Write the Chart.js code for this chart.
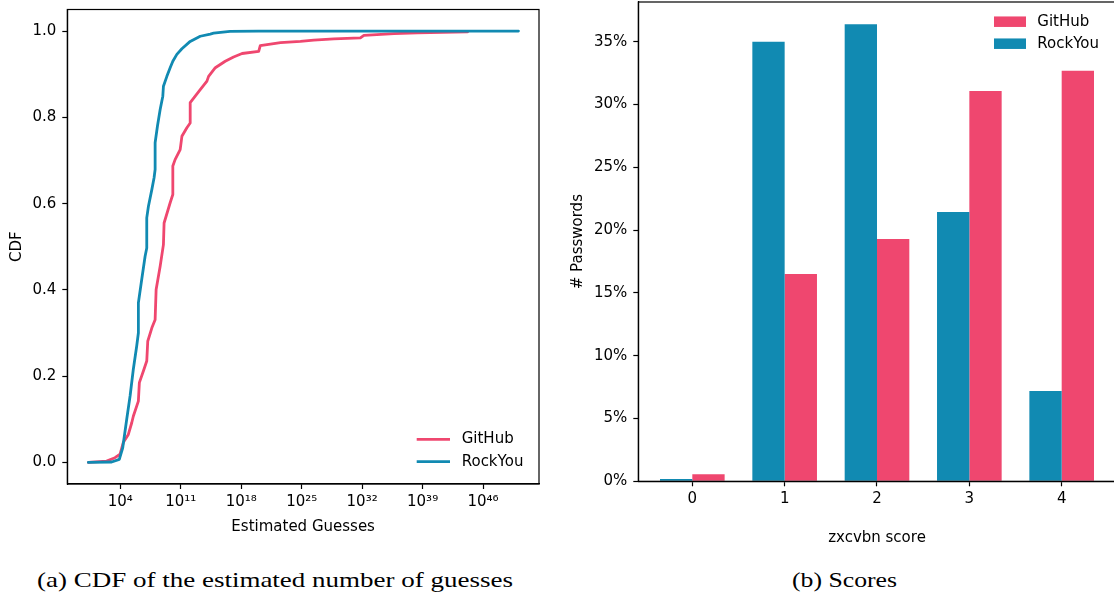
<!DOCTYPE html>
<html><head><meta charset="utf-8">
<script src="https://cdn.jsdelivr.net/npm/chart.js@4.4.1/dist/chart.umd.min.js"></script>
<style>
html,body{margin:0;padding:0;background:#fff;overflow:hidden;width:1114px;height:599px;position:relative;}
#wa{position:absolute;left:0;top:0;width:557px;height:550px;}
#wb{position:absolute;left:557px;top:0;width:570px;height:550px;}
.cap{position:absolute;top:570px;font-family:"Liberation Serif",serif;font-size:21px;line-height:21px;white-space:nowrap;color:#000;transform-origin:left center;}
</style></head>
<body>
<div id="wa"><canvas id="ca" width="557" height="550"></canvas></div>
<div id="wb"><canvas id="cb" width="570" height="550"></canvas></div>
<div class="cap" id="capA">(a) CDF of the estimated number of guesses</div>
<div class="cap" id="capB">(b) Scores</div>
<script>
// ---- Left panel: CDF of estimated guesses ----
const githubGuesses = [2e0,2.6e2,2.4e3,9.3e3,2.2e4,8.5e4,2.1e5,3.2e5,1.23e6,1.6e6,4.7e6,1.15e7,1.5e7,4.5e7,1.07e8,1.4e8,4.1e8,9.8e8,1.17e9,5.9e9,1.2e10,1.2e10,2.2e10,8.5e10,1.35e11,5.1e11,1.23e12,1.23e12,4.7e12,1.8e13,1.07e14,1.66e14,1e15,1.4e16,1.3e17,1.26e18,1.05e20,1.6e20,3.5e22,7.2e24,2.5e26,5.4e28,6.3e31,1.6e32,5e35,2.5e38,1.6e44];
const githubCdf     = [0,0.003,0.011,0.019,0.046,0.065,0.092,0.107,0.142,0.185,0.212,0.235,0.281,0.312,0.331,0.401,0.455,0.505,0.555,0.602,0.621,0.687,0.702,0.725,0.756,0.776,0.787,0.834,0.849,0.864,0.884,0.895,0.915,0.930,0.940,0.948,0.953,0.966,0.973,0.976,0.979,0.982,0.984,0.990,0.994,0.996,0.998];
const rockyouGuesses = [2e0,1e3,7.6e3,1.9e4,5.5e4,1.35e5,3.2e5,7.9e5,1.23e6,1.23e6,3.0e6,7.4e6,1.15e7,1.15e7,1.8e7,4.5e7,8.1e7,1.07e8,1.07e8,2e8,4.1e8,8.3e8,9.8e8,2.45e9,5.9e9,1.2e10,3.5e10,1.35e11,1.23e12,1.8e13,2.6e14,6.3e14,5e16,1e20,1.26e50];
const rockyouCdf     = [0,0.001,0.007,0.034,0.10,0.154,0.216,0.27,0.30,0.37,0.424,0.478,0.497,0.567,0.594,0.633,0.66,0.679,0.741,0.78,0.818,0.849,0.872,0.895,0.915,0.930,0.946,0.959,0.976,0.988,0.993,0.995,0.9995,1.0,1.0];
const xTickValues = [1e4,1e11,1e18,1e25,1e32,1e39,1e46];
const xTickLabels = ['10\u2074','10\u00b9\u00b9','10\u00b9\u2078','10\u00b2\u2075','10\u00b3\u00b2','10\u00b3\u2079','10\u2074\u2076'];
const cdfTicks = [0,0.2,0.4,0.6,0.8,1.0];

// ---- Right panel: zxcvbn scores ----
const scores = [0,1,2,3,4];
const rockyouPct = [0.19,35.0,36.38,21.44,7.19];
const githubPct  = [0.56,16.5,19.29,31.07,32.69];
const pctTicks = [0,5,10,15,20,25,30,35];

const PINK = '#ef476f', BLUE = '#118ab2';
Chart.defaults.font.family = '"DejaVu Sans"';
Chart.defaults.font.size = 15;
Chart.defaults.color = '#000';

const frame = {
  id:'frame',
  afterDraw(chart){
    const {ctx, chartArea:a} = chart;
    ctx.save(); ctx.strokeStyle='#000'; ctx.lineWidth=1.2;
    ctx.strokeRect(a.left,a.top,a.right-a.left,a.bottom-a.top);
    ctx.restore();
  }
};
const insideLegend = {
  id:'insideLegend',
  afterDraw(chart, args, o){
    const {ctx, chartArea:a} = chart;
    let ds = chart.data.datasets.slice();
    if (o.reverse) ds.reverse();
    ctx.save();
    ctx.font = '15px "DejaVu Sans"';
    ctx.textBaseline = 'middle'; ctx.textAlign = 'left';
    ds.forEach((d,i)=>{
      const y = o.fromBottom ? a.bottom + o.rows[i] : a.top + o.rows[i];
      const x0 = a.right + o.sampleX;
      if (o.kind === 'line') {
        ctx.strokeStyle = d.borderColor; ctx.lineWidth = d.borderWidth;
        ctx.beginPath(); ctx.moveTo(x0,y); ctx.lineTo(x0+o.sampleW,y); ctx.stroke();
      } else {
        ctx.fillStyle = d.backgroundColor;
        ctx.fillRect(x0, y-5.25, o.sampleW, 10.5);
      }
      ctx.fillStyle = '#000';
      ctx.fillText(d.label, a.right + o.textX, y);
    });
    ctx.restore();
  }
};
function zeroPad(s){ s.paddingTop=0; s.paddingBottom=0; s.paddingLeft=0; s.paddingRight=0; }
const tickGrid = {display:true, drawOnChartArea:false, drawTicks:true, tickLength:5, tickColor:'#000', tickWidth:1.2};
const border = {display:true, color:'#000', width:1.2};

new Chart(document.getElementById('ca'), {
  type:'line',
  data:{datasets:[
    {label:'GitHub', data:githubGuesses.map((g,i)=>({x:g,y:githubCdf[i]})), borderColor:PINK, backgroundColor:PINK, borderWidth:2.8, pointRadius:0, tension:0, order:1, borderJoinStyle:'round', borderCapStyle:'round'},
    {label:'RockYou', data:rockyouGuesses.map((g,i)=>({x:g,y:rockyouCdf[i]})), borderColor:BLUE, backgroundColor:BLUE, borderWidth:2.8, pointRadius:0, tension:0, order:0, borderJoinStyle:'round', borderCapStyle:'round'}
  ]},
  options:{
    responsive:false, animation:false,
    layout:{padding:{top:9.5,right:18,left:0,bottom:0}},
    plugins:{legend:{display:false}, tooltip:{enabled:false},
      insideLegend:{kind:'line', fromBottom:true, rows:[-44.7,-22.3], sampleX:-122.3, sampleW:33.3, textX:-77.3}},
    scales:{
      x:{type:'logarithmic', min:Math.pow(10,-2.14), max:Math.pow(10,52.48),
        afterBuildTicks:s=>{ s.ticks = xTickValues.map(v=>({value:v})); },
        afterFit:s=>{ s.height = 66; zeroPad(s); },
        ticks:{autoSkip:false, maxRotation:0, padding:4, callback:(v,i)=>xTickLabels[i]},
        grid:tickGrid, border:border,
        title:{display:true, text:'Estimated Guesses', padding:{top:0,bottom:14}}},
      y:{type:'linear', min:-0.05, max:1.05,
        afterBuildTicks:s=>{ s.ticks = cdfTicks.map(v=>({value:v})); },
        afterFit:s=>{ s.width = 67.3; zeroPad(s); },
        ticks:{padding:6, callback:v=>Number(v).toFixed(1)},
        grid:tickGrid, border:border,
        title:{display:true, text:'CDF', padding:{top:8,bottom:0}}}
    }
  },
  plugins:[frame, insideLegend]
});

new Chart(document.getElementById('cb'), {
  type:'bar',
  data:{datasets:[
    {label:'RockYou', data:scores.map((s,i)=>({x:s,y:rockyouPct[i]})), backgroundColor:BLUE, borderWidth:0},
    {label:'GitHub', data:scores.map((s,i)=>({x:s,y:githubPct[i]})), backgroundColor:PINK, borderWidth:0}
  ]},
  options:{
    responsive:false, animation:false,
    layout:{padding:{top:2,right:11.3,left:0,bottom:0}},
    datasets:{bar:{categoryPercentage:0.7, barPercentage:1.0}},
    plugins:{legend:{display:false}, tooltip:{enabled:false},
      insideLegend:{kind:'box', reverse:true, fromBottom:false, rows:[19.7,41.7], sampleX:-121.7, sampleW:32, textX:-78.4}},
    scales:{
      x:{type:'linear', min:-0.585, max:4.585, offset:false,
        afterBuildTicks:s=>{ s.ticks = scores.map(v=>({value:v})); },
        afterFit:s=>{ s.height = 68.7; zeroPad(s); },
        ticks:{autoSkip:false, maxRotation:0, padding:4, callback:v=>String(v)},
        grid:Object.assign({offset:false}, tickGrid), border:border,
        title:{display:true, text:'zxcvbn score', padding:{top:0,bottom:2.5}}},
      y:{type:'linear', min:0, max:38.16,
        afterBuildTicks:s=>{ s.ticks = pctTicks.map(v=>({value:v})); },
        afterFit:s=>{ s.width = 81.3; zeroPad(s); },
        ticks:{padding:6, callback:v=>v+'%'},
        grid:tickGrid, border:border,
        title:{display:true, text:'# Passwords', padding:{top:12.5,bottom:0}}}
    }
  },
  plugins:[frame, insideLegend]
});

// captions: fit to the reference widths
function fitCap(id, left, width){
  const el = document.getElementById(id);
  const w = el.getBoundingClientRect().width;
  el.style.left = left + 'px';
  el.style.transform = 'scaleX(' + (width / w) + ')';
}
fitCap('capA', 37, 476);
fitCap('capB', 792, 105);
</script>
</body></html>
